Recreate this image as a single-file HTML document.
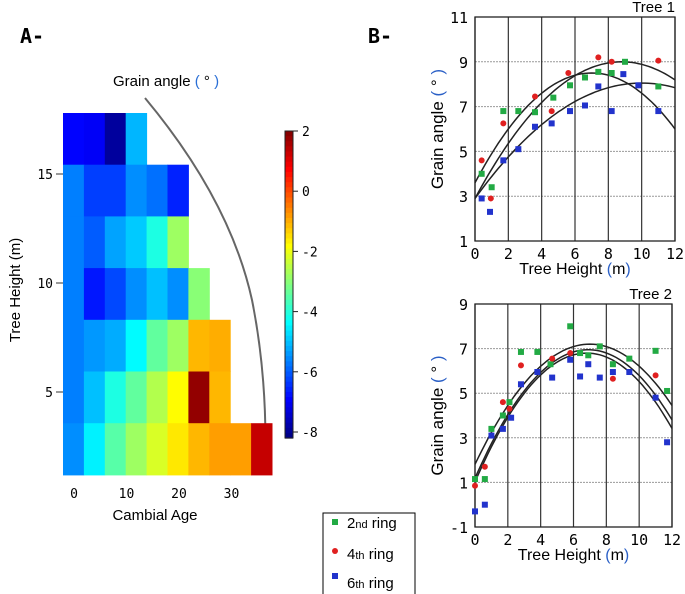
<!DOCTYPE html>
<html><head><meta charset="utf-8"><style>
html,body{margin:0;padding:0;background:#fff;}
svg{display:block;font-family:"Liberation Sans",sans-serif;}
.mono{font-family:"DejaVu Sans Mono","Liberation Mono",monospace;}
</style></head><body>
<svg id="fig" width="685" height="594" viewBox="0 0 685 594" xmlns="http://www.w3.org/2000/svg">
<text x="20" y="43" font-size="20" font-weight="bold" class="mono">A-</text>
<text x="368" y="43" font-size="20" font-weight="bold" class="mono">B-</text>
<text x="113" y="86" font-size="15">Grain angle <tspan fill="#2a6fd6">(</tspan> ° <tspan fill="#2a6fd6">)</tspan></text>
<path d="M145,98 Q230,200 252,300 Q268,380 265,470" fill="none" stroke="#666" stroke-width="2"/>
<g id="heat"></g>
<g id="cbar"></g>
<g id="t1"></g>
<g id="t2"></g>
<g>
<rect x="323" y="513" width="92" height="84" fill="#fff" stroke="#000" stroke-width="1"/>
<rect x="332" y="519" width="6" height="6" fill="#22aa44"/>
<text x="347" y="528" font-size="15">2<tspan font-size="11">nd</tspan> ring</text>
<circle cx="335" cy="551" r="3" fill="#e02020"/>
<text x="347" y="559" font-size="15">4<tspan font-size="11">th</tspan> ring</text>
<rect x="332" y="573" width="6" height="6" fill="#2233cc"/>
<text x="347" y="588" font-size="15">6<tspan font-size="11">th</tspan> ring</text>
</g>
</svg>
<script>
const NS="http://www.w3.org/2000/svg";
// Heatmap data: rows from top (highest) to bottom, values in degrees
const heatRows=[
 [-6.9,-7.0,-7.9,-5.1],
 [-5.65,-6.3,-6.3,-5.5,-5.8,-6.6],
 [-5.65,-6.0,-5.3,-4.9,-4.1,-2.8],
 [-5.65,-6.7,-6.2,-5.5,-5.0,-5.5,-3.0],
 [-5.65,-5.4,-5.2,-4.4,-3.4,-2.8,-1.1,-1.0],
 [-5.65,-5.0,-4.1,-3.4,-2.6,-1.8,1.8,-1.1],
 [-5.5,-4.5,-3.5,-2.8,-2.2,-1.6,-1.1,-0.85,-0.85,1.3]
];
const heatXTicks=[0,10,20,30];
const heatYTicks=[5,10,15];
const cbarTicks=[2,0,-2,-4,-6,-8];
const vmin=-8.2, vmax=2;

function mk(tag,attrs,parent){const e=document.createElementNS(NS,tag);for(const k in attrs)e.setAttribute(k,attrs[k]);parent.appendChild(e);return e;}
function jet(t){t=Math.max(0,Math.min(1,t));
 const r=Math.max(0,Math.min(1,1.5-Math.abs(4*t-3)));
 const g=Math.max(0,Math.min(1,1.5-Math.abs(4*t-2)));
 const b=Math.max(0,Math.min(1,1.5-Math.abs(4*t-1)));
 return `rgb(${Math.round(r*255)},${Math.round(g*255)},${Math.round(b*255)})`;}

const heat=document.getElementById('heat');
const hx0=63,cw=20.9,hy0=113,rh=51.7;
const hAgeX=a=>70+a*5.25;
const hHeightY=h=>505-h*21.8;
heatRows.forEach((row,ri)=>{row.forEach((v,ci)=>{
 const r=mk('rect',{x:hx0+ci*cw,y:hy0+ri*rh,width:cw+0.5,height:rh+0.5,fill:jet((v-vmin)/(vmax-vmin))},heat);
 
 
});});
heatXTicks.forEach(t=>{const x=hAgeX(t)+4;
 const l=mk('text',{x:x,y:498,'font-size':13,'text-anchor':'middle',class:'mono'},heat);l.textContent=t;
 
 
});
heatYTicks.forEach(t=>{const y=hHeightY(t)-4;
 const tk=mk('line',{x1:56,x2:63,y1:y,y2:y,stroke:'#333'},heat);
 
 
 const l=mk('text',{x:53,y:y+5,'font-size':13,'text-anchor':'end',class:'mono'},heat);l.textContent=t;
 
 
});
{const l=mk('text',{x:155,y:520,'font-size':15,'text-anchor':'middle'},heat);l.textContent='Cambial Age';
 
 const l2=mk('text',{x:20,y:290,'font-size':15,'text-anchor':'middle',transform:'rotate(-90 20 290)'},heat);l2.textContent='Tree Height  (m)';
 }

// colorbar
const cb=document.getElementById('cbar');
const cbY=v=>131+(2-v)*30.1;
for(let i=0;i<60;i++){const v0=vmax-(vmax-vmin)*(i+0.5)/60;
 const s=mk('rect',{x:285,y:131+i*(cbY(vmin)-131)/60,width:8,height:(cbY(vmin)-131)/60+0.6,fill:jet((v0-vmin)/(vmax-vmin))},cb);
 }
mk('rect',{x:285,y:131,width:8,height:cbY(vmin)-131,fill:'none',stroke:'#222','stroke-width':1},cb);
cbarTicks.forEach(t=>{const y=cbY(t);
 mk('line',{x1:293,x2:298,y1:y,y2:y,stroke:'#222'},cb);
 const l=mk('text',{x:302,y:y+5,'font-size':13,class:'mono'},cb);l.textContent=t;
 });

// Tree 1 data
const t1GreenX=[0.4,1.0,1.7,2.6,3.6,4.7,5.7,6.6,7.4,8.2,9.0,11];
const t1GreenY=[4.0,3.4,6.8,6.8,6.75,7.4,7.95,8.3,8.55,8.5,9.0,7.9];
const t1RedX=[0.4,0.95,1.7,3.6,4.6,5.6,7.4,8.2,11];
const t1RedY=[4.6,2.9,6.25,7.45,6.8,8.5,9.2,9.0,9.05];
const t1BlueX=[0.4,0.9,1.7,2.6,3.6,4.6,5.7,6.6,7.4,8.2,8.9,9.8,11];
const t1BlueY=[2.9,2.3,4.6,5.1,6.1,6.25,6.8,7.05,7.9,6.8,8.45,7.95,6.8];
const t1FitPeakX=[7,8.8,10];
const t1FitPeakY=[8.5,9.0,8.05];
const t1FitK=[0.1,0.0788,0.0515];
const t1YTicks=[1,3,5,7,9,11];
// Tree 2 data
const t2GreenX=[0,0.6,1.0,1.7,2.1,2.8,3.8,4.6,5.8,6.4,6.9,7.6,8.4,9.4,11,11.7];
const t2GreenY=[1.15,1.15,3.4,4.0,4.6,6.85,6.85,6.3,8.0,6.8,6.7,7.1,6.3,6.55,6.9,5.1];
const t2RedX=[0,0.6,1.7,2.1,2.8,4.7,5.8,8.4,11];
const t2RedY=[0.85,1.7,4.6,4.3,6.25,6.55,6.8,5.65,5.8];
const t2BlueX=[0,0.6,1.0,1.7,2.2,2.8,3.8,4.7,5.8,6.4,6.9,7.6,8.4,9.4,11,11.7];
const t2BlueY=[-0.3,0.0,3.1,3.4,3.9,5.4,5.95,5.7,6.5,5.75,6.3,5.7,5.95,5.95,4.8,2.8];
const t2FitPeakX=[7,6.9,6.8];
const t2FitPeakY=[7.2,6.95,6.8];
const t2FitK=[0.11,0.121,0.125];
const t2YTicks=[-1,1,3,5,7,9];
const xTicks=[0,2,4,6,8,10,12];

function chart(g,cfg){
 const {left,right,top,bottom,ymin,ymax}=cfg;
 const X=x=>left+(x-0)/(12-0)*(right-left);
 const Y=y=>bottom-(y-ymin)/(ymax-ymin)*(bottom-top);
 cfg.yticks.forEach(t=>{ if(t!==ymin&&t!==ymax){
   const gl=mk('line',{x1:left,x2:right,y1:Y(t),y2:Y(t),stroke:'#999','stroke-dasharray':'2,1','stroke-width':1},g);
   }
  const l=mk('text',{x:left-7,y:Y(t)+6,'font-size':15,'text-anchor':'end',class:'mono'},g);l.textContent=t;
  });
 xTicks.forEach(t=>{
  const gl=mk('line',{x1:X(t),x2:X(t),y1:top,y2:bottom,stroke:'#333','stroke-width':1.2},g);
  
  const l=mk('text',{x:X(t),y:bottom+18,'font-size':15,'text-anchor':'middle',class:'mono'},g);l.textContent=t;
  });
 mk('rect',{x:left,y:top,width:right-left,height:bottom-top,fill:'none',stroke:'#222','stroke-width':1.3},g);
 cfg.fitPX.forEach((px,i)=>{let d='';
  for(let s=0;s<=60;s++){const x=12*s/60;const y=cfg.fitPY[i]-cfg.fitK[i]*(x-px)*(x-px);d+=(s?'L':'M')+X(x).toFixed(1)+','+Y(y).toFixed(1);}
  const p=mk('path',{d:d,fill:'none',stroke:'#222','stroke-width':1.5},g);
  });
 const series=[[cfg.gx,cfg.gy,'#22aa44','sq','point-2nd-ring'],[cfg.rx,cfg.ry,'#e02020','ci','point-4th-ring'],[cfg.bx,cfg.by,'#2233cc','sq','point-6th-ring']];
 series.forEach(([xs,ys,c,sh,nm])=>xs.forEach((x,i)=>{let m;
  if(sh==='sq')m=mk('rect',{x:X(x)-3,y:Y(ys[i])-3,width:6,height:6,fill:c},g);
  else m=mk('circle',{cx:X(x),cy:Y(ys[i]),r:3,fill:c},g);
  }));
 const tt=mk('text',{x:right,y:top-5,'font-size':15,'text-anchor':'end'},g);tt.textContent=cfg.title;
 
 const xt=mk('text',{x:(left+right)/2,y:bottom+33,'font-size':16,'text-anchor':'middle'},g);xt.innerHTML='Tree Height <tspan fill="#2a5fc6">(</tspan>m<tspan fill="#2a5fc6">)</tspan>';
 
 const cy=(top+bottom)/2, cx=443;
 const yt=mk('text',{x:cx,y:cy,'font-size':17,'text-anchor':'middle',transform:`rotate(-90 ${cx} ${cy})`},g);yt.innerHTML='Grain angle <tspan fill="#2a5fc6">(</tspan> ° <tspan fill="#2a5fc6">)</tspan>';
 
}
chart(document.getElementById('t1'),{left:475,right:675,top:17,bottom:241,ymin:1,ymax:11,yticks:t1YTicks,title:'Tree 1',
 gx:t1GreenX,gy:t1GreenY,rx:t1RedX,ry:t1RedY,bx:t1BlueX,by:t1BlueY,fitPX:t1FitPeakX,fitPY:t1FitPeakY,fitK:t1FitK});
chart(document.getElementById('t2'),{left:475,right:672,top:304,bottom:527,ymin:-1,ymax:9,yticks:t2YTicks,title:'Tree 2',
 gx:t2GreenX,gy:t2GreenY,rx:t2RedX,ry:t2RedY,bx:t2BlueX,by:t2BlueY,fitPX:t2FitPeakX,fitPY:t2FitPeakY,fitK:t2FitK});
</script>
</body></html>
